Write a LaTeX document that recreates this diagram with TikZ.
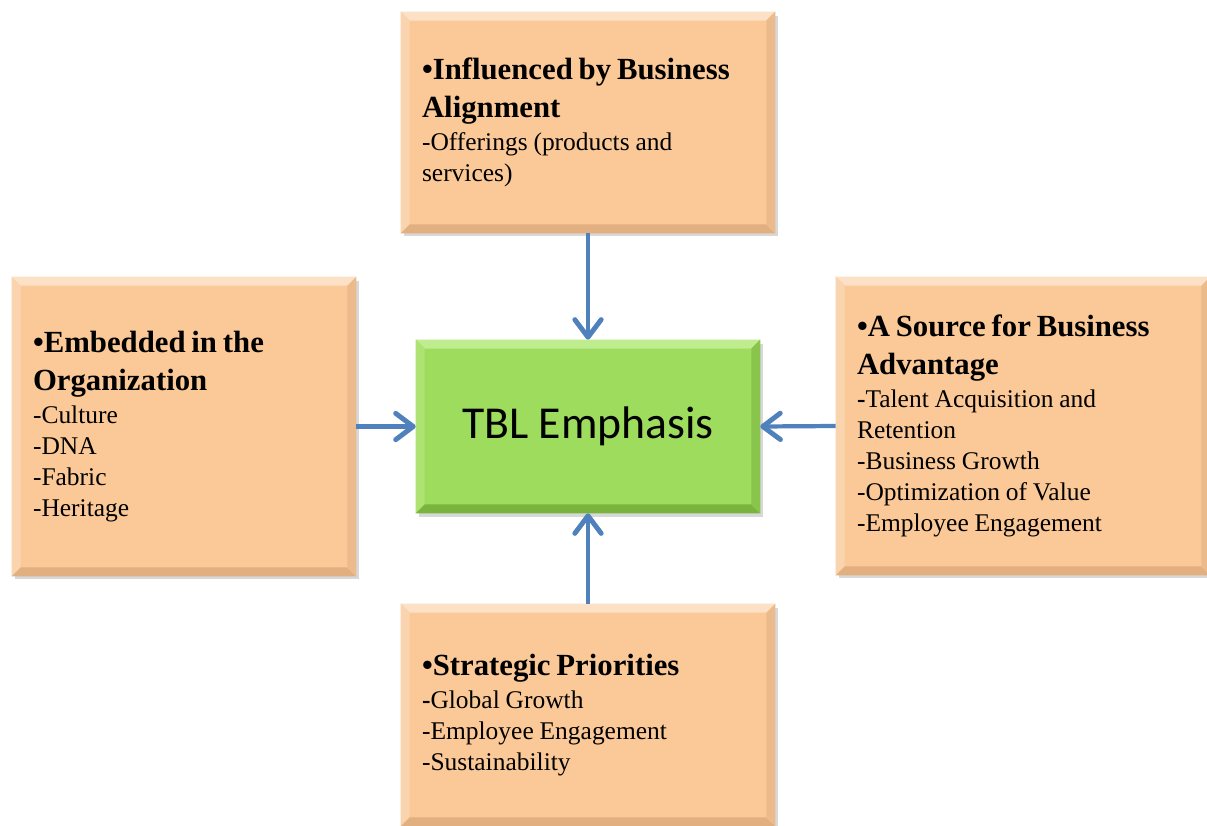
\documentclass[tikz,border=0pt]{standalone}
\usepackage{fontspec}
\setmainfont{Liberation Serif}
\newfontfamily\centrefont{Carlito}
\usetikzlibrary{arrows.meta,calc,shadows}

\definecolor{peach}{RGB}{251,201,151}
\definecolor{peachhi}{RGB}{253,225,198}
\definecolor{peachlf}{RGB}{250,212,174}
\definecolor{peachlo}{RGB}{226,176,128}
\definecolor{peachrt}{RGB}{236,187,140}
\definecolor{leaf}{RGB}{157,220,92}
\definecolor{leafhi}{RGB}{192,236,144}
\definecolor{leaflf}{RGB}{174,227,116}
\definecolor{leaflo}{RGB}{122,180,62}
\definecolor{leafrt}{RGB}{137,196,76}
\definecolor{linkblue}{RGB}{79,129,189}

\newcommand\headsz{\bfseries\fontsize{17.5}{21.5}\selectfont}
\newcommand\bodysz{\vspace{1.5pt}\mdseries\fontsize{14.5}{17.6}\selectfont}
% closes a box text, setting it a little below the centre
\newcommand\boxend{\par\vspace*{-0.16cm}}

% four bevel faces round a rectangular node
\newcommand\bevelframe[5]{%
  \fill[#2] (#1.north west) -- (#1.north east) -- ($(#1.north east)+(-9,9)$) -- ($(#1.north west)+(9,9)$) -- cycle;
  \fill[#3] (#1.north west) -- ($(#1.north west)+(9,9)$) -- ($(#1.south west)+(9,-9)$) -- (#1.south west) -- cycle;
  \fill[#4] (#1.south west) -- ($(#1.south west)+(9,-9)$) -- ($(#1.south east)+(-9,-9)$) -- (#1.south east) -- cycle;
  \fill[#5] (#1.north east) -- (#1.south east) -- ($(#1.south east)+(-9,-9)$) -- ($(#1.north east)+(-9,9)$) -- cycle;
}

\begin{document}
\begin{tikzpicture}[x=0.02cm,y=-0.02cm,
  infobox/.style={rectangle, fill=peach, align=left, anchor=center,
    inner xsep=0.42cm, inner ysep=0pt,
    drop shadow={opacity=0.3, shadow xshift=1.5pt, shadow yshift=-2pt}},
  hubbox/.style={rectangle, fill=leaf, align=center, font=\centrefont\fontsize{26}{30}\selectfont,
    minimum width=6.88cm, minimum height=3.46cm, inner sep=0pt,
    drop shadow={opacity=0.3, shadow xshift=1.5pt, shadow yshift=-2pt}},
  link/.style={draw=linkblue, line width=2.4pt,
    -{Straight Barb[length=10pt, width=15pt, line width=2.8pt, round]}}]

\fill[white] (0,0) rectangle (1207,825);
\useasboundingbox (0,0) rectangle (1207,825);

\node[infobox, text width=6.64cm, minimum width=7.48cm, minimum height=4.42cm] (topbox) at (588,122.5)
  {\headsz •Influenced by Business\\Alignment\par
   \bodysz -Offerings (products and\\services)\boxend};

\node[infobox, text width=6.04cm, minimum width=6.88cm, minimum height=5.98cm] (leftbox) at (184,426.5)
  {\headsz •Embedded in the\\Organization\par
   \bodysz -Culture\\-DNA\\-Fabric\\-Heritage\boxend};

\node[infobox, text width=6.64cm, minimum width=7.48cm, minimum height=5.96cm] (rightbox) at (1023,426)
  {\headsz •A Source for Business\\Advantage\par
   \bodysz \textbf{-}Talent Acquisition and\\Retention\\-Business Growth\\-Optimization of Value\\-Employee Engagement\boxend};

\node[infobox, text width=6.64cm, minimum width=7.48cm, minimum height=4.44cm] (bottombox) at (588,715)
  {\headsz •Strategic Priorities\par
   \bodysz \textbf{-}Global Growth\\-Employee Engagement\\-Sustainability\boxend};

\node[hubbox] (hub) at (588,426.5) {\raisebox{-0.13cm}{TBL Emphasis}};

\bevelframe{topbox}{peachhi}{peachlf}{peachlo}{peachrt}
\bevelframe{leftbox}{peachhi}{peachlf}{peachlo}{peachrt}
\bevelframe{rightbox}{peachhi}{peachlf}{peachlo}{peachrt}
\bevelframe{bottombox}{peachhi}{peachlf}{peachlo}{peachrt}
\bevelframe{hub}{leafhi}{leaflf}{leaflo}{leafrt}

\draw[link] (topbox.south) -- (hub.north);
\draw[link] (bottombox.north) -- (hub.south);
\draw[link] (leftbox.east) -- (hub.west);
\draw[link] (rightbox.west) -- (hub.east);

\end{tikzpicture}
\end{document}
